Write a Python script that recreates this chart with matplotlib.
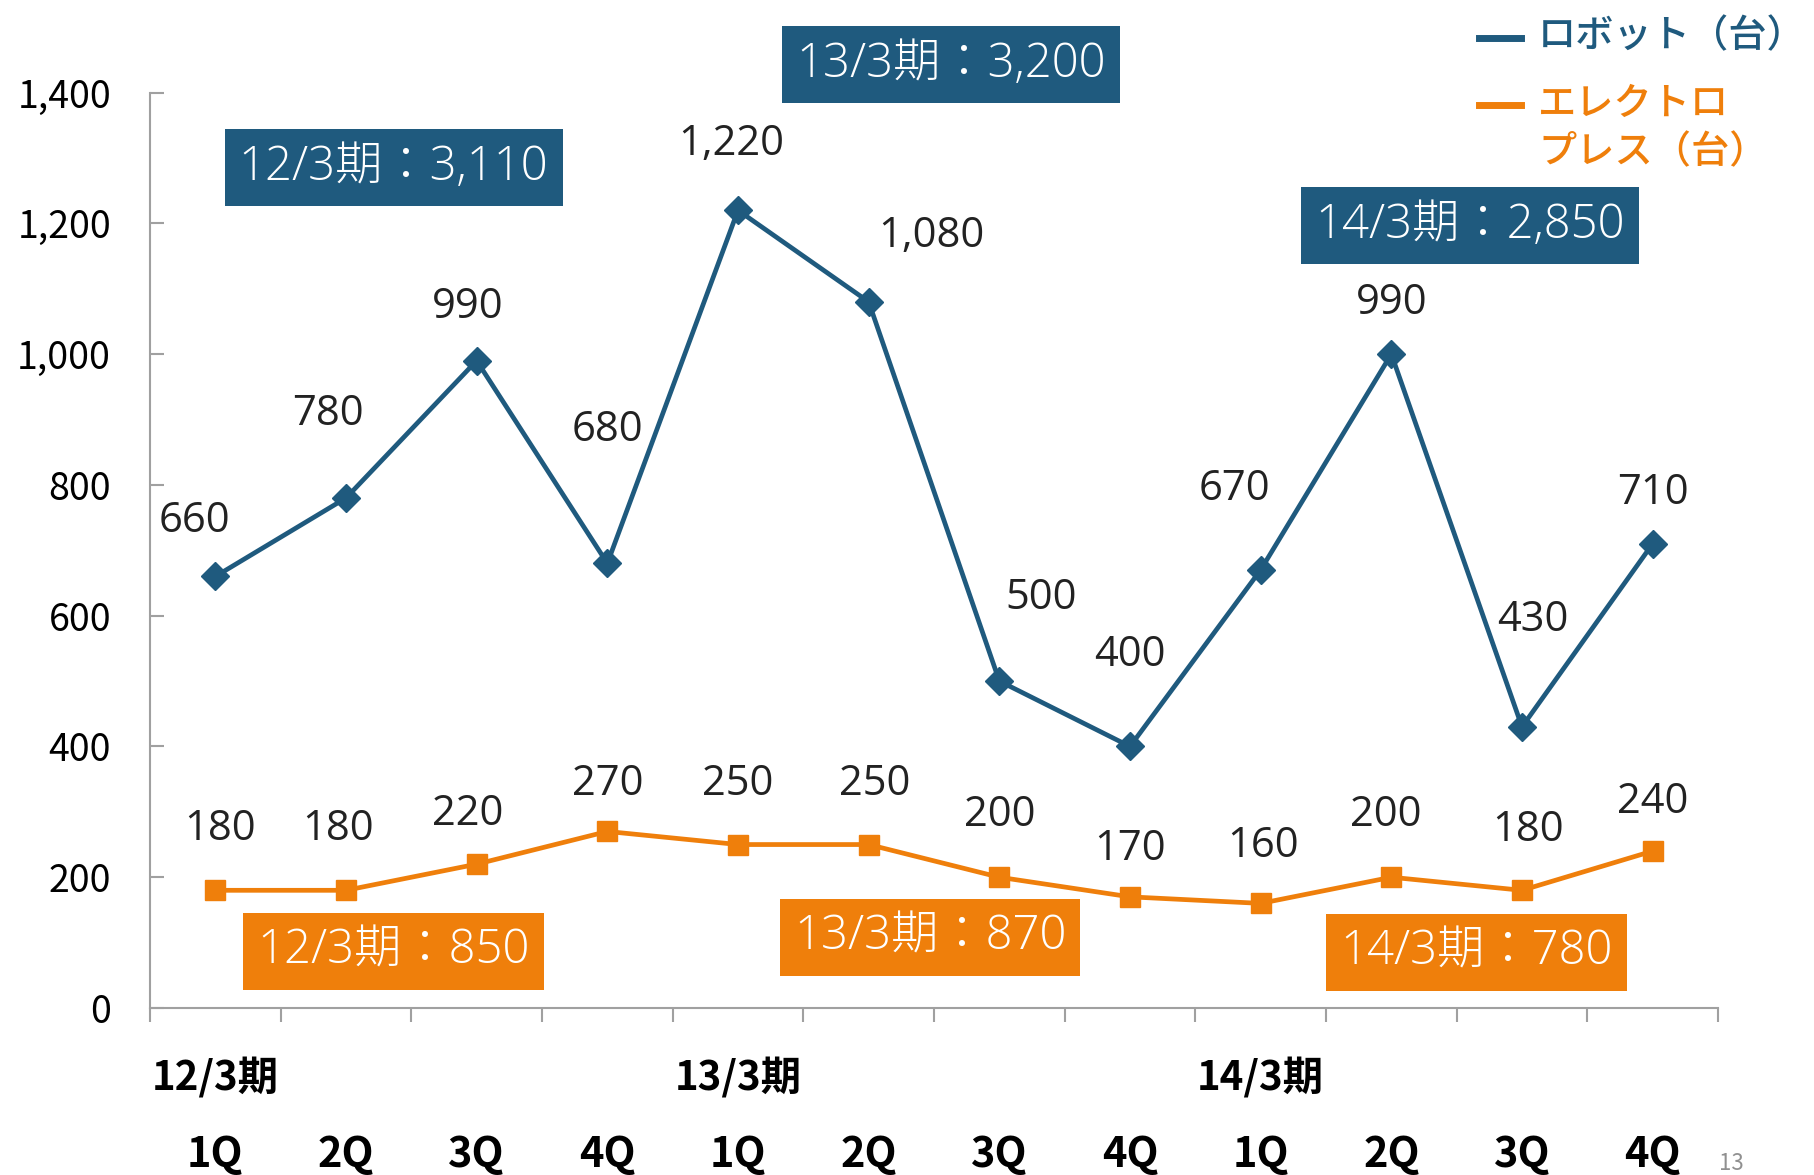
import matplotlib
matplotlib.use("Agg")
import matplotlib.pyplot as plt
from matplotlib.lines import Line2D

plt.rcParams['font.family'] = ['Noto Sans CJK JP', 'DejaVu Sans']

# ---- data ----
quarters = ['1Q', '2Q', '3Q', '4Q'] * 3
periods = ['12/3期', '13/3期', '14/3期']
robot_values = [660, 780, 990, 680, 1220, 1080, 500, 400, 670, 1000, 430, 710]
robot_labels = ['660', '780', '990', '680', '1,220', '1,080', '500', '400', '670', '990', '430', '710']
press_values = [180, 180, 220, 270, 250, 250, 200, 170, 160, 200, 180, 240]
press_labels = ['180', '180', '220', '270', '250', '250', '200', '170', '160', '200', '180', '240']
robot_totals = ['12/3期：3,110', '13/3期：3,200', '14/3期：2,850']
press_totals = ['12/3期：850', '13/3期：870', '14/3期：780']
yticks = [0, 200, 400, 600, 800, 1000, 1200, 1400]
legend_robot = 'ロボット（台）'
legend_press = 'エレクトロ\nプレス（台）'
page_number = '13'

# ---- style ----
BLUE = '#1F5A7E'
ORANGE = '#EF7F0B'
TEXT = '#222222'
AXIS = '#A0A0A0'
NUM_FONT = ['Open Sans', 'Noto Sans CJK JP', 'DejaVu Sans']
BOX_FONT = ['Open Sans', 'Noto Sans CJK JP', 'DejaVu Sans']

W, H = 1814, 1175
fig = plt.figure(figsize=(W / 100, H / 100), dpi=100)
ax = fig.add_axes([150 / W, (H - 1008) / H, (1718 - 150) / W, (1008 - 92.6) / H])

x = list(range(len(robot_values)))
ax.plot(x, robot_values, color=BLUE, lw=3.4, marker='D', ms=14, mec=BLUE, mfc=BLUE, zorder=3)
ax.plot(x, press_values, color=ORANGE, lw=3.4, marker='s', ms=14, mec=ORANGE, mfc=ORANGE, zorder=3)

ax.set_xlim(-0.5, len(x) - 0.5)
ax.set_ylim(0, 1400)
for s in ['top', 'right']:
    ax.spines[s].set_visible(False)
for s in ['left', 'bottom']:
    ax.spines[s].set_color(AXIS)
    ax.spines[s].set_linewidth(1.5)

ax.set_yticks(yticks)
ax.set_yticklabels([f'{v:,}' for v in yticks], fontsize=27, color='black')
ax.tick_params(axis='y', direction='in', length=10, width=1.5, color=AXIS, pad=28)
ax.set_xticks([i - 0.5 for i in range(len(x) + 1)])
ax.set_xticklabels([])
ax.tick_params(axis='x', direction='out', length=10, width=1.5, color=AXIS)

# category labels
for i, q in enumerate(quarters):
    ax.annotate(q, (i, 0), xytext=(0, -147), textcoords='offset pixels',
                ha='center', va='center', fontsize=30, fontweight='bold', color='black')
for k, p in enumerate(periods):
    ax.annotate(p, (4 * k, 0), xytext=(0, -71), textcoords='offset pixels',
                ha='center', va='center', fontsize=29, fontweight='bold', color='black')

# data labels (offsets in pixels)
S = 1.157
robot_off = [(-18, 48), (-16, 73), (-8, 46), (0, 115), (-6, 57), (54, 57),
             (36, 72), (0, 79), (-23, 70), (0, 44), (9, 92), (0, 44)]
press_off = [(4, 53), (-7, 53), (-8, 43), (0, 41), (0, 52), (5, 52),
             (0, 54), (0, 41), (2, 50), (-5, 54), (5, 52), (0, 42)]
for i, (v, lab) in enumerate(zip(robot_values, robot_labels)):
    dx, dy = robot_off[i]
    ax.annotate(lab, (i, v), xytext=(dx * S, dy * S), textcoords='offset pixels',
                ha='center', va='center', fontsize=30, color=TEXT, family=NUM_FONT)
for i, (v, lab) in enumerate(zip(press_values, press_labels)):
    dx, dy = press_off[i]
    ax.annotate(lab, (i, v), xytext=(dx * S, dy * S), textcoords='offset pixels',
                ha='center', va='center', fontsize=30, color=TEXT, family=NUM_FONT)

# total boxes
robot_box_pos = [(1.364, 1285), (5.63, 1443), (9.60, 1197)]
press_box_pos = [(1.364, 87), (5.47, 108), (9.65, 85)]
for (bx, by), t in zip(robot_box_pos, robot_totals):
    ax.text(bx, by, t, ha='center', va='center', fontsize=34, color='white',
            family=BOX_FONT, fontweight='light',
            bbox=dict(boxstyle='square,pad=0.3', fc=BLUE, ec='none'), clip_on=False, zorder=4)
for (bx, by), t in zip(press_box_pos, press_totals):
    ax.text(bx, by, t, ha='center', va='center', fontsize=34, color='white',
            family=BOX_FONT, fontweight='light',
            bbox=dict(boxstyle='square,pad=0.3', fc=ORANGE, ec='none'), clip_on=False, zorder=4)

# legend
fig.add_artist(Line2D([1479 / W, 1521 / W], [1 - 38 / H, 1 - 38 / H], color=BLUE, lw=5))
fig.add_artist(Line2D([1479 / W, 1521 / W], [1 - 105 / H, 1 - 105 / H], color=ORANGE, lw=5))
fig.text(1538 / W, 1 - 36 / H, legend_robot, ha='left', va='center', fontsize=27.5,
         color=BLUE, fontweight='medium')
fig.text(1538 / W, 1 - 128 / H, legend_press, ha='left', va='center', fontsize=27.5,
         color=ORANGE, fontweight='medium', linespacing=1.25)

fig.text(1731 / W, 1 - 1163 / H, page_number, ha='center', va='center', fontsize=16, color='#909090')

fig.savefig('out.png', dpi=100)
